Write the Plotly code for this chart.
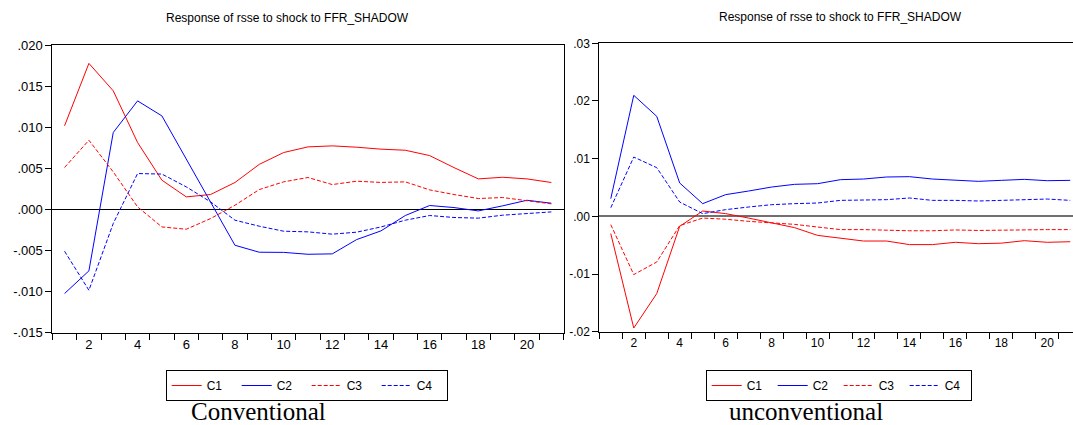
import plotly.graph_objects as go

periods = list(range(1, 22))

# Conventional panel (left)
conv_c1 = [0.0102, 0.0178, 0.01445, 0.00816, 0.00357, 0.00154, 0.00183, 0.00329, 0.0055, 0.00694,
           0.00763, 0.00775, 0.00759, 0.00735, 0.00722, 0.00657, 0.00511, 0.00373, 0.00393, 0.00373, 0.00329]
conv_c2 = [-0.01023, -0.00747, 0.00938, 0.01323, 0.0114, 0.0062, 0.00085, -0.00435, -0.0052, -0.00522,
           -0.00545, -0.0054, -0.00366, -0.0026, -0.00073, 0.00049, 0.00024, -0.00017, 0.00045, 0.00113, 0.00077]
conv_c3 = [0.00512, 0.00844, 0.00458, 0.00032, -0.00212, -0.0024, -0.0011, 0.00052, 0.00243, 0.00337,
           0.0039, 0.00304, 0.00345, 0.0033, 0.00337, 0.00239, 0.00183, 0.00134, 0.00146, 0.00105, 0.00069]
conv_c4 = [-0.00508, -0.00983, -0.0017, 0.00438, 0.00432, 0.00276, 0.00093, -0.0013, -0.00203, -0.00264,
           -0.00272, -0.003, -0.00276, -0.00212, -0.0013, -0.00073, -0.00097, -0.00105, -0.00069, -0.00053, -0.00029]

# Unconventional panel (right)
unc_c1 = [-0.003, -0.01936, -0.0134, -0.00173, 0.00092, 0.00047, -0.0003, -0.0011, -0.00196, -0.0033,
          -0.0038, -0.00428, -0.00428, -0.0049, -0.0049, -0.0045, -0.00474, -0.00465, -0.00422, -0.0045, -0.0044]
unc_c2 = [0.00307, 0.02098, 0.01734, 0.00578, 0.0022, 0.00376, 0.00439, 0.00508, 0.00555, 0.00566,
          0.00636, 0.00647, 0.00682, 0.00688, 0.00647, 0.00624, 0.00607, 0.00624, 0.00641, 0.00618, 0.00624]
unc_c3 = [-0.00145, -0.0101, -0.00792, -0.0016, -0.0003, -0.0005, -0.00087, -0.00116, -0.00139, -0.00185,
          -0.0023, -0.0023, -0.00243, -0.0025, -0.0025, -0.00236, -0.00245, -0.00236, -0.00228, -0.0023, -0.0023]
unc_c4 = [0.0015, 0.01028, 0.00844, 0.00248, 0.00047, 0.00116, 0.00162, 0.00202, 0.0022, 0.00231,
          0.00277, 0.00277, 0.00289, 0.00318, 0.00277, 0.00277, 0.00266, 0.00277, 0.00289, 0.003, 0.00277]

series_names = ["C1", "C2", "C3", "C4"]
left_yticks = [-0.015, -0.010, -0.005, 0.0, 0.005, 0.010, 0.015, 0.020]
left_yticktext = ["-.015", "-.010", "-.005", ".000", ".005", ".010", ".015", ".020"]
right_yticks = [-0.02, -0.01, 0.0, 0.01, 0.02, 0.03]
right_yticktext = ["-.02", "-.01", ".00", ".01", ".02", ".03"]
xlabels = list(range(2, 21, 2))
xminor = [i + 0.5 for i in range(0, 22)]

RED = "#FF0000"
BLUE = "#0000FF"
styles = [(RED, "solid"), (BLUE, "solid"), (RED, "4px,2px"), (BLUE, "4px,2px")]

W, H = 1073, 425
fig = go.Figure()

for name, vals, (col, dash) in zip(series_names, [conv_c1, conv_c2, conv_c3, conv_c4], styles):
    fig.add_trace(go.Scatter(x=periods, y=vals, mode="lines", name=name,
                             line=dict(color=col, width=1, dash=dash),
                             xaxis="x", yaxis="y", legend="legend"))
for name, vals, (col, dash) in zip(series_names, [unc_c1, unc_c2, unc_c3, unc_c4], styles):
    fig.add_trace(go.Scatter(x=periods, y=vals, mode="lines", name=name,
                             line=dict(color=col, width=1, dash=dash),
                             xaxis="x2", yaxis="y2", legend="legend2"))

axfont_l = dict(family="Liberation Sans, Arial", size=13, color="black")
axfont_r = dict(family="Liberation Sans, Arial", size=12, color="black")

def xax(domain, anchor, rng, mirror, font):
    return dict(domain=domain, anchor=anchor, range=rng, showgrid=False, zeroline=False,
                showline=True, linecolor="black", linewidth=1, mirror=mirror,
                tickmode="array", tickvals=xlabels, ticktext=[str(v) for v in xlabels],
                ticks="", tickfont=font, automargin=False,
                minor=dict(tickmode="array", tickvals=xminor, ticks="outside",
                           ticklen=6, tickcolor="black", tickwidth=1, showgrid=False))

def yax(domain, anchor, rng, tv, tt, mirror, zc, zw, font):
    return dict(domain=domain, anchor=anchor, range=rng, showgrid=False,
                zeroline=True, zerolinecolor=zc, zerolinewidth=zw,
                showline=True, linecolor="black", linewidth=1, mirror=mirror,
                tickmode="array", tickvals=tv, ticktext=tt, ticks="outside",
                ticklen=6, tickcolor="black", tickfont=font, automargin=False)

legend_font = dict(family="Liberation Sans, Arial", size=12, color="black")
fig.update_layout(
    width=W, height=H, margin=dict(l=0, r=0, t=0, b=0, autoexpand=False),
    paper_bgcolor="white", plot_bgcolor="white",
    xaxis=xax([52.4 / W, 563.5 / W], "y", [0.5, 21.5], True, axfont_l),
    yaxis=yax([(H - 332.7) / H, (H - 45.3) / H], "x", [-0.015, 0.020],
              left_yticks, left_yticktext, True, "black", 1, axfont_l),
    xaxis2=xax([599.3 / W, 1.0], "y2", [0.5, 21.12], True, axfont_r),
    yaxis2=yax([(H - 331.7) / H, (H - 43.3) / H], "x2", [-0.02, 0.03],
               right_yticks, right_yticktext, False, "#707070", 1.5, axfont_r),
    legend=dict(orientation="h", x=165.7 / W, xanchor="left", y=(H - 370) / H, yanchor="top",
                bordercolor="black", borderwidth=1, bgcolor="rgba(0,0,0,0)", font=legend_font,
                entrywidth=25, entrywidthmode="pixels", itemwidth=30, tracegroupgap=0),
    legend2=dict(orientation="h", x=705.7 / W, xanchor="left", y=(H - 370) / H, yanchor="top",
                 bordercolor="black", borderwidth=1, bgcolor="rgba(0,0,0,0)", font=legend_font,
                 entrywidth=21, entrywidthmode="pixels", itemwidth=30, tracegroupgap=0),
    showlegend=True,
)

title_font = dict(family="Liberation Sans, Arial", size=12, color="black")
fig.add_annotation(text="Response of rsse to shock to FFR_SHADOW", x=287 / W, y=(H - 18) / H,
                   xref="paper", yref="paper", showarrow=False, font=title_font,
                   xanchor="center", yanchor="middle")
fig.add_annotation(text="Response of rsse to shock to FFR_SHADOW", x=840 / W, y=(H - 17) / H,
                   xref="paper", yref="paper", showarrow=False, font=title_font,
                   xanchor="center", yanchor="middle")
cap_font = dict(family="Liberation Serif, Times New Roman, serif", size=25, color="black")
fig.add_annotation(text="Conventional", x=258 / W, y=(H - 411) / H, xref="paper", yref="paper",
                   showarrow=False, font=cap_font, xanchor="center", yanchor="middle")
fig.add_annotation(text="unconventional", x=806 / W, y=(H - 411) / H, xref="paper", yref="paper",
                   showarrow=False, font=cap_font, xanchor="center", yanchor="middle")

fig.write_html("out.html")
